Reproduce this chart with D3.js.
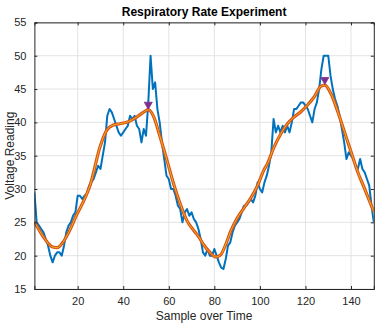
<!DOCTYPE html>
<html><head><meta charset="utf-8">
<script src="https://cdn.jsdelivr.net/npm/d3@7"></script>
<style>body{margin:0;background:#fff}svg{display:block;font-family:"Liberation Sans",Arial,Helvetica,sans-serif}</style>
</head><body><svg id="c" width="386" height="326"></svg>
<script>
const title = "Respiratory Rate Experiment";
const xLabel = "Sample over Time";
const yLabel = "Voltage Reading";
const xTicks = [20, 40, 60, 80, 100, 120, 140];
const yTicks = [15, 20, 25, 30, 35, 40, 45, 50, 55];
// raw signal, samples 1..150
const rawValues = [
29.5,25,24.5,24,23.5,22.5,21.5,20,19,20,
20.5,20.5,20,21.5,23.5,24.5,25,26,26.5,29,
29,28.5,29,29.3,30.5,31,31.5,32.5,33.5,33,
35,37,41,42,41.5,40.5,39.5,38.5,38,38.5,
39,39.5,41,40.5,41,39.5,39,37,39,38,
43,50,45,46,42,40,37,34.5,32,31.5,
30,30,29,27.5,27,25,26.5,27,26,26.5,
25.5,25,24,22.5,20.5,20,21,20,20,21,
20,19,18.2,18,19.5,21.5,22,23.5,24.5,25,
25.5,26.5,27.5,27.5,28,28.5,28,29,31,30,
29.5,31,32,33.5,35.5,40.5,38.5,39.5,38.5,39.5,
38.5,39.5,38.5,40,42,42,42.5,43,43,42.5,
42,41,40,42,43,45,48,50,50,50,
47,45,43.5,42.5,41,39,37,34.5,35.5,35,
34.5,33.5,33,34.5,33,32.5,31.5,30.5,27.5,25
];
// smoothed curve, read at sample positions
const smoothX = [1,5,9,11,13.5,16.5,19.5,22.5,25.5,29.8,32.7,35.6,38.5,42.2,45.9,48.8,51,53.3,56.2,59.2,62.1,65,67.9,70.9,73,75.4,78.3,80.5,82.7,84.9,87.1,90,92.9,95.9,98.8,101.7,103.3,106.2,109.2,112.1,115,118,120.9,123.8,126.7,128.5,131.2,134.2,137.1,140,142.9,145.9,148.8,150];
const smoothY = [25.1,22.8,21.3,21.2,22,23.8,26.1,28.1,30.6,36.3,38.8,39.6,39.8,40.1,40.8,41.5,41.9,40.9,37.8,34.3,30.8,27.8,25.3,23.8,22.9,21.6,20.4,19.8,20.1,21.6,23.6,25.6,27.1,28.6,30.4,32.8,33.8,36.3,38.3,39.8,40.8,41.6,42.6,43.8,45.4,45.6,44.3,41.6,38.6,35.6,32.6,30.1,27.6,26.6];
const peakX = [51, 128.5];
const peakY = [41.9, 45.6];

const svg = d3.select("#c");
const m = {l:34.4, r:373.8, t:22.4, b:289};
const x = d3.scaleLinear().domain([1,150]).range([m.l, m.r]);
const y = d3.scaleLinear().domain([15,55]).range([m.b, m.t]);
const axisCol = "#262626";

// grid
svg.append("g").selectAll("line.gx").data(xTicks).join("line")
  .attr("x1", d=>x(d)).attr("x2", d=>x(d)).attr("y1", m.t).attr("y2", m.b)
  .attr("stroke", "#e3e3e3").attr("stroke-width", 1);
svg.append("g").selectAll("line.gy").data(yTicks).join("line")
  .attr("x1", m.l).attr("x2", m.r).attr("y1", d=>y(d)).attr("y2", d=>y(d))
  .attr("stroke", "#e3e3e3").attr("stroke-width", 1);

const clip = svg.append("clipPath").attr("id","clp").append("rect")
  .attr("x", m.l).attr("y", m.t).attr("width", m.r-m.l).attr("height", m.b-m.t);

const plot = svg.append("g").attr("clip-path","url(#clp)");
const raw = rawValues.map((v,i)=>[i+1, v]);
const line = d3.line().x(d=>x(d[0])).y(d=>y(d[1]));
plot.append("path").datum(raw).attr("d", line).attr("fill","none")
  .attr("stroke","#0072BD").attr("stroke-width",2).attr("stroke-linejoin","round");
const sm = smoothX.map((v,i)=>[v, smoothY[i]]);
const sline = d3.line().x(d=>x(d[0])).y(d=>y(d[1])).curve(d3.curveMonotoneX);
plot.append("path").datum(sm).attr("d", sline).attr("fill","none")
  .attr("stroke","#D95319").attr("stroke-width",3.2).attr("stroke-linejoin","round");
plot.append("path").datum(sm).attr("d", sline).attr("fill","none")
  .attr("stroke","#EDB120").attr("stroke-width",1).attr("stroke-linejoin","round");

// peak markers (downward triangles sitting above the peak)
svg.append("g").selectAll("path").data(peakX.map((v,i)=>[v, peakY[i]])).join("path")
  .attr("transform", d=>`translate(${x(d[0])},${y(d[1])-4})`)
  .attr("d", "M-4,-3.5L4,-3.5L0,3.5Z")
  .attr("fill","#7E2F8E").attr("stroke","#7E2F8E").attr("stroke-width",0.8);

// axes
const ax = svg.append("g").attr("transform",`translate(0,${m.b})`)
  .call(d3.axisBottom(x).tickValues(xTicks).tickSize(-3).tickPadding(8));
const ay = svg.append("g").attr("transform",`translate(${m.l},0)`)
  .call(d3.axisLeft(y).tickValues(yTicks).tickSize(-3).tickPadding(8));
const at = svg.append("g").attr("transform",`translate(0,${m.t})`)
  .call(d3.axisTop(x).tickValues(xTicks).tickSize(-3).tickFormat(""));
const ar = svg.append("g").attr("transform",`translate(${m.r},0)`)
  .call(d3.axisRight(y).tickValues(yTicks).tickSize(-3).tickFormat(""));
[ax,ay,at,ar].forEach(g=>{
  g.select(".domain").attr("stroke", axisCol).attr("stroke-width",1);
  g.selectAll(".tick line").attr("stroke", axisCol);
  g.selectAll(".tick text").attr("fill", axisCol).style("font-size","11px")
   .style("font-family","'Liberation Sans',Arial,sans-serif");
});

svg.append("text").attr("x", (m.l+m.r)/2).attr("y", 16).attr("text-anchor","middle")
  .style("font-size","12px").style("font-weight","bold").attr("fill","#000").text(title);
svg.append("text").attr("x", (m.l+m.r)/2).attr("y", 320).attr("text-anchor","middle")
  .style("font-size","12px").attr("fill", axisCol).text(xLabel);
svg.append("text").attr("transform",`translate(14,${(m.t+m.b)/2}) rotate(-90)`)
  .attr("text-anchor","middle").style("font-size","12px").attr("fill", axisCol).text(yLabel);
</script></body></html>
